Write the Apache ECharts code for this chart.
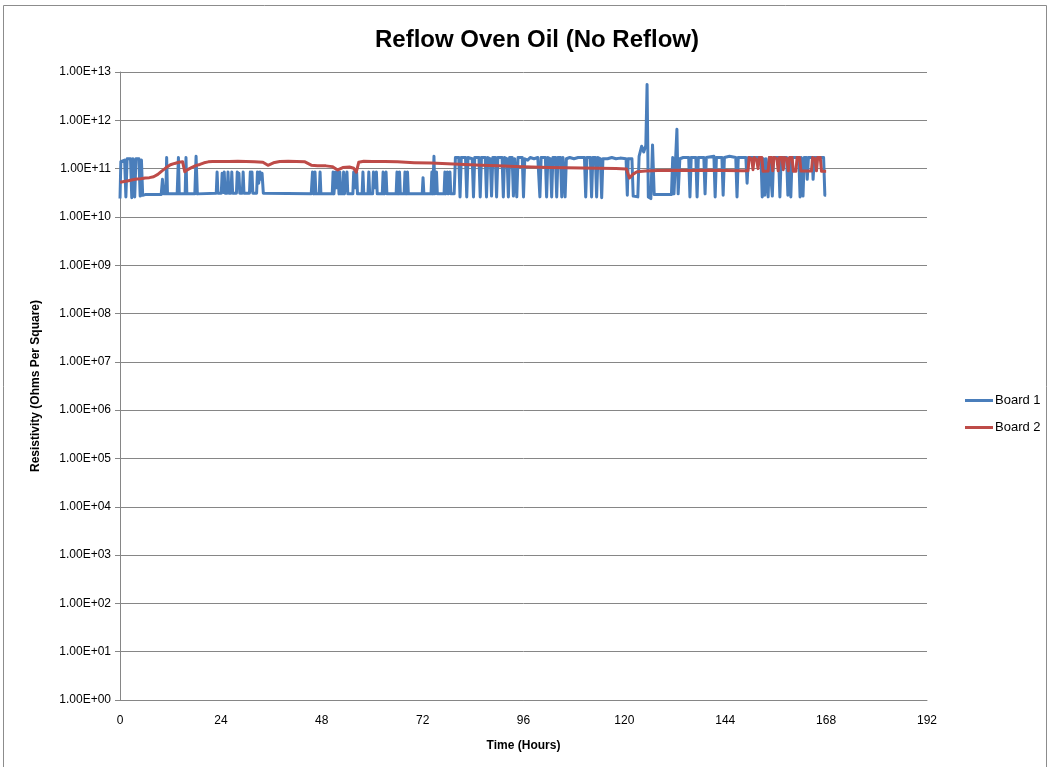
<!DOCTYPE html>
<html>
<head>
<meta charset="utf-8">
<script src="https://cdn.jsdelivr.net/npm/echarts@6/dist/echarts.min.js"></script>
<style>
  html, body { margin: 0; padding: 0; background: #fff; }
  #chart { width: 1047px; height: 767px; }
</style>
</head>
<body>
<div id="chart"></div>
<script>
// Surface resistivity of two boards over a week in reflow oven oil (no reflow)
const titleText = 'Reflow Oven Oil (No Reflow)';
const xName = 'Time (Hours)';
const yName = 'Resistivity (Ohms Per Square)';
const seriesNames = ['Board 1', 'Board 2'];
const hourTicks = [0, 24, 48, 72, 96, 120, 144, 168, 192];

// Board 1: [hours, ohms/sq]
const board1 = [
  [0, 2.4e10], [0.2, 1.4e11], [1.1, 1.5e11], [1.4, 2.6e10], [1.7, 1.6e11], [2.5, 1.6e11],
  [2.8, 2.5e10], [3.1, 1.6e11], [3.5, 2.6e10], [3.8, 1.6e11], [4.5, 1.6e11], [4.8, 2.7e10],
  [5.1, 1.5e11], [5.4, 2.8e10], [6, 2.9e10], [9.8, 2.9e10], [10.1, 6e10], [10.4, 3e10],
  [10.9, 3e10], [11.1, 1.7e11], [11.3, 3e10], [13.6, 3e10], [13.9, 1.7e11], [14.1, 3e10],
  [15.5, 3e10], [15.7, 1.7e11], [15.9, 3e10], [17.8, 3e10], [18.1, 1.8e11], [18.4, 3e10],
  [22.9, 3.1e10], [23.1, 8.5e10], [23.3, 3.1e10], [24.1, 3.1e10], [24.3, 8e10], [24.55, 3.2e10],
  [24.8, 8.5e10], [25, 3.1e10], [25.5, 3.1e10], [25.7, 8.5e10], [25.9, 3.1e10], [26.4, 3.1e10],
  [26.6, 8.5e10], [26.8, 3.1e10], [27.7, 3.1e10], [27.9, 8.5e10], [28.1, 4e10], [28.3, 8e10],
  [28.5, 3.1e10], [29.1, 3.1e10], [29.3, 8.5e10], [29.5, 3.1e10], [30.8, 3.1e10], [31, 8.5e10],
  [31.2, 3.5e10], [31.4, 8.5e10], [31.6, 3.1e10], [32.5, 3.1e10], [32.7, 8.5e10], [33, 5e10],
  [33.3, 8.5e10], [33.6, 6e10], [33.8, 8e10], [34.1, 3.1e10], [45.5, 3e10], [45.8, 8.5e10],
  [46.1, 3e10], [46.2, 3e10], [46.4, 8.5e10], [46.6, 3e10], [47.4, 3e10], [47.6, 8.5e10],
  [47.8, 3e10], [50.5, 3e10], [50.7, 8.5e10], [50.9, 3e10], [51.1, 3e10], [51.3, 8.5e10],
  [51.5, 4e10], [51.9, 8.5e10], [52.1, 3e10], [52.3, 8.5e10], [52.5, 3e10], [53, 3e10],
  [53.2, 8.5e10], [53.4, 3e10], [53.8, 3e10], [54, 8.5e10], [54.2, 3e10], [55.4, 3e10],
  [55.6, 8.5e10], [55.9, 4e10], [56.3, 8.5e10], [56.5, 3e10], [57.6, 3e10], [57.8, 8.5e10],
  [58, 3e10], [59, 3e10], [59.2, 8.5e10], [59.4, 3e10], [60.1, 3e10], [60.3, 8.5e10],
  [60.6, 4e10], [61, 8.5e10], [61.2, 3e10], [62.4, 3e10], [62.6, 8.5e10], [62.9, 3e10],
  [63.1, 3e10], [63.3, 8.5e10], [63.5, 3e10], [65.7, 3e10], [65.9, 8.5e10], [66.2, 3e10],
  [66.3, 3e10], [66.5, 8.5e10], [66.7, 3e10], [67.6, 3e10], [67.8, 8.5e10], [68.1, 3e10],
  [68.2, 3e10], [68.4, 8.5e10], [68.6, 3e10], [71.9, 3e10], [72.1, 6.5e10], [72.3, 3e10],
  [74, 3e10], [74.2, 8.5e10], [74.4, 3e10], [74.5, 3e10], [74.7, 1.8e11], [74.9, 3e10],
  [75.1, 3e10], [75.3, 8.5e10], [75.5, 3e10], [77.1, 3e10], [77.3, 8.5e10], [77.5, 3e10],
  [77.7, 3e10], [77.9, 8.5e10], [78.1, 3e10], [78.3, 3e10], [78.5, 8.5e10], [78.7, 3e10],
  [79.5, 3e10], [79.8, 1.7e11], [80.6, 1.7e11], [80.9, 2.6e10], [81.2, 1.7e11], [82.2, 1.7e11],
  [82.5, 2.6e10], [82.8, 1.7e11], [83.8, 1.6e11], [84.1, 2.6e10], [84.4, 1.7e11], [85.4, 1.7e11],
  [85.7, 2.6e10], [86, 1.7e11], [86.9, 1.7e11], [87.2, 2.6e10], [87.5, 1.7e11], [88.1, 1.6e11],
  [88.4, 2.7e10], [88.7, 1.7e11], [89.3, 1.7e11], [89.6, 2.6e10], [89.9, 1.7e11], [90.9, 1.7e11],
  [91.2, 2.6e10], [91.5, 1.7e11], [92.1, 1.6e11], [92.4, 2.6e10], [92.7, 1.7e11], [93.3, 1.7e11],
  [93.6, 2.7e10], [93.9, 1.6e11], [94.1, 1.6e11], [94.4, 2.6e10], [94.7, 1.7e11], [95.7, 1.7e11],
  [96, 2.6e10], [96.3, 1.6e11], [97, 1.5e11], [97.6, 1.7e11], [98.5, 1.6e11], [99.4, 1.7e11],
  [99.9, 2.6e10], [100.2, 1.7e11], [101.2, 1.7e11], [101.5, 2.6e10], [101.8, 1.7e11], [102.4, 1.6e11],
  [102.7, 2.6e10], [103, 1.7e11], [103.6, 1.7e11], [103.9, 2.6e10], [104.2, 1.7e11], [104.8, 1.7e11],
  [105.1, 2.6e10], [105.4, 1.7e11], [105.6, 1.7e11], [105.9, 2.6e10], [106.2, 1.6e11], [107, 1.7e11],
  [108, 1.6e11], [109, 1.7e11], [110.5, 1.7e11], [110.8, 2.6e10], [111.1, 1.7e11], [111.9, 1.7e11],
  [112.2, 2.6e10], [112.5, 1.7e11], [113.1, 1.7e11], [113.4, 2.6e10], [113.7, 1.7e11], [114.3, 1.6e11],
  [114.6, 2.5e10], [114.9, 1.6e11], [116, 1.6e11], [117, 1.7e11], [118, 1.6e11], [119, 1.65e11],
  [120.4, 1.6e11], [120.7, 2.8e10], [120.9, 1.6e11], [121.8, 1.6e11], [122.1, 2.7e10], [123.2, 2.6e10],
  [123.5, 1.8e11], [124.1, 2.9e11], [124.6, 2.2e11], [125.1, 3e11], [125.4, 5.5e12], [125.7, 2.6e10],
  [126.3, 2.4e10], [126.7, 3.1e11], [127.1, 2.9e10], [131.2, 2.9e10], [131.5, 1.7e11], [131.8, 3e10],
  [132.2, 1.7e11], [132.5, 6.5e11], [132.8, 3e10], [133.2, 1.6e11], [134, 1.7e11], [135.3, 1.7e11],
  [135.6, 2.6e10], [135.9, 1.7e11], [137, 1.7e11], [137.3, 2.6e10], [137.6, 1.7e11], [138.9, 1.7e11],
  [139.2, 3e10], [139.5, 1.7e11], [141.3, 1.8e11], [141.6, 2.6e10], [141.9, 1.7e11], [143.2, 1.7e11],
  [143.5, 2.8e10], [143.8, 1.7e11], [145, 1.8e11], [146.5, 1.7e11], [146.8, 2.6e10], [147.1, 1.7e11],
  [148.9, 1.7e11], [149.2, 5e10], [149.5, 1.7e11], [152.5, 1.7e11], [152.8, 2.6e10], [153.1, 1.6e11],
  [153.4, 2.8e10], [153.7, 1.6e11], [154, 1.6e11], [154.2, 2.6e10], [154.5, 1.7e11], [154.9, 1.7e11],
  [155.2, 2.7e10], [155.5, 1.7e11], [156.7, 1.7e11], [157, 2.6e10], [157.3, 1.7e11], [158.6, 1.7e11],
  [158.9, 2.8e10], [159.2, 1.6e11], [159.4, 1.6e11], [159.6, 2.6e10], [159.9, 1.7e11], [161.5, 1.7e11],
  [161.8, 2.6e10], [162.1, 1.7e11], [162.3, 1.7e11], [162.5, 2.7e10], [162.8, 1.7e11], [163.3, 1.7e11],
  [163.5, 6e10], [163.8, 1.7e11], [164.7, 1.7e11], [164.9, 6e10], [165.2, 1.7e11], [167.4, 1.7e11],
  [167.7, 2.8e10], [168, 2.8e10]
];

// Board 2: [hours, ohms/sq]
const board2 = [
  [0, 5.2e10], [1, 5.4e10], [2, 5.6e10], [3, 5.9e10], [4, 6.1e10], [5, 6.2e10], [6, 6.4e10],
  [7, 6.5e10], [8, 6.8e10], [9, 7.6e10], [10, 9e10], [11, 1.05e11], [12, 1.2e11], [13, 1.28e11],
  [14, 1.35e11], [14.9, 1.38e11], [15.4, 8.6e10], [16, 9.4e10], [17, 1.05e11], [18, 1.15e11],
  [19, 1.22e11], [20, 1.32e11], [21, 1.38e11], [22, 1.4e11], [24, 1.41e11], [26, 1.4e11],
  [28, 1.42e11], [30, 1.4e11], [32, 1.39e11], [34, 1.36e11], [35.2, 1.17e11], [36.5, 1.32e11],
  [38, 1.4e11], [40, 1.42e11], [42, 1.41e11], [44, 1.38e11], [45.5, 1.18e11], [47, 1.15e11],
  [49, 1.14e11], [50.5, 1.1e11], [51.8, 9.4e10], [53, 1.05e11], [54.6, 1.08e11], [55.6, 1.02e11],
  [56.2, 8.4e10], [56.8, 1.35e11], [58, 1.42e11], [60, 1.41e11], [63, 1.4e11], [66, 1.38e11],
  [70, 1.33e11], [74, 1.3e11], [78, 1.26e11], [82, 1.22e11], [86, 1.18e11], [90, 1.14e11],
  [94, 1.1e11], [98, 1.08e11], [102, 1.06e11], [106, 1.04e11], [110, 1.03e11], [114, 1.02e11],
  [118, 1e11], [120.5, 9.8e10], [121.2, 6.4e10], [122, 7.6e10], [123, 8.6e10], [125, 8.9e10],
  [128, 9.1e10], [132, 9.2e10], [136, 9.1e10], [140, 9.2e10], [144, 9.1e10], [148, 9e10],
  [149.4, 9e10], [149.7, 1.7e11], [150.3, 1.6e11], [150.6, 9.5e10], [150.9, 1.7e11], [151.5, 1.5e11],
  [151.8, 1e11], [152.1, 1.7e11], [152.7, 1.7e11], [153, 8.8e10], [154.2, 8.9e10], [154.5, 1.7e11],
  [155, 1.7e11], [155.3, 9e10], [155.6, 1.7e11], [156.3, 1.6e11], [156.6, 9e10], [156.9, 1.7e11],
  [157.5, 1.7e11], [157.8, 9.5e10], [158.1, 1.7e11], [158.7, 1.6e11], [159, 9e10], [159.3, 1.7e11],
  [159.9, 1.7e11], [160.2, 8.8e10], [160.8, 8.8e10], [161.1, 1.7e11], [161.7, 1.7e11], [162, 8.9e10],
  [164.5, 8.9e10], [164.8, 1.7e11], [165.4, 1.6e11], [165.7, 9e10], [166, 1.7e11], [166.6, 1.7e11],
  [166.9, 8.8e10], [168, 8.8e10]
];

const seriesColors = ['#4a7ebb', '#be4b48'];
const fontFamily = '"Liberation Sans", Arial, sans-serif';

function sciLabel(v) {
  const e = Math.round(Math.log10(v));
  return '1.00E+' + (e < 10 ? '0' + e : '' + e);
}

const chart = echarts.init(document.getElementById('chart'), null, { renderer: 'canvas' });
chart.setOption({
  animation: false,
  backgroundColor: '#ffffff',
  textStyle: { fontFamily: fontFamily },
  title: {
    text: titleText,
    left: 532, top: 23,
    textAlign: 'center',
    textStyle: { fontSize: 24, fontWeight: 'bold', color: '#000', fontFamily: fontFamily }
  },
  graphic: [{
    type: 'rect',
    shape: { x: 3.5, y: 5.5, width: 1043, height: 800 },
    style: { fill: 'none', stroke: '#8c8c8c', lineWidth: 1 },
    silent: true
  }],
  legend: {
    orient: 'vertical',
    left: 960, top: 389,
    itemWidth: 28, itemHeight: 3, itemGap: 14,
    icon: 'rect',
    data: seriesNames,
    textStyle: { fontSize: 13, color: '#000', fontFamily: fontFamily, padding: [0, 0, 0, -3] }
  },
  grid: { left: 120, right: 120, top: 72, bottom: 67, containLabel: false },
  xAxis: {
    type: 'value',
    min: 0, max: 192, interval: 24,
    name: xName,
    nameLocation: 'middle',
    nameGap: 40,
    nameTextStyle: { fontSize: 12, fontWeight: 'bold', color: '#000' },
    axisLine: { show: true, lineStyle: { color: '#868686', width: 1 } },
    axisTick: { show: false },
    axisLabel: {
      fontSize: 12, color: '#000', margin: 15,
      customValues: hourTicks,
      formatter: v => String(v)
    },
    splitLine: { show: false }
  },
  yAxis: {
    type: 'log',
    logBase: 10,
    min: 1, max: 1e13,
    interval: 1,
    name: yName,
    nameLocation: 'middle',
    nameRotate: 90,
    nameGap: 78,
    nameTextStyle: { fontSize: 12, fontWeight: 'bold', color: '#000' },
    axisLine: { show: true, lineStyle: { color: '#868686', width: 1 } },
    axisTick: { show: true, inside: false, length: 5, lineStyle: { color: '#868686' } },
    axisLabel: { fontSize: 12, color: '#000', margin: 9, formatter: sciLabel },
    splitLine: { show: true, lineStyle: { color: '#868686', width: 1 } }
  },
  series: [
    {
      name: seriesNames[0], type: 'line', data: board1,
      showSymbol: false, symbol: 'none',
      color: seriesColors[0],
      lineStyle: { width: 3, color: seriesColors[0], join: 'round' },
      z: 2
    },
    {
      name: seriesNames[1], type: 'line', data: board2,
      showSymbol: false, symbol: 'none',
      color: seriesColors[1],
      lineStyle: { width: 3, color: seriesColors[1], join: 'round' },
      z: 3
    }
  ]
});
</script>
</body>
</html>
